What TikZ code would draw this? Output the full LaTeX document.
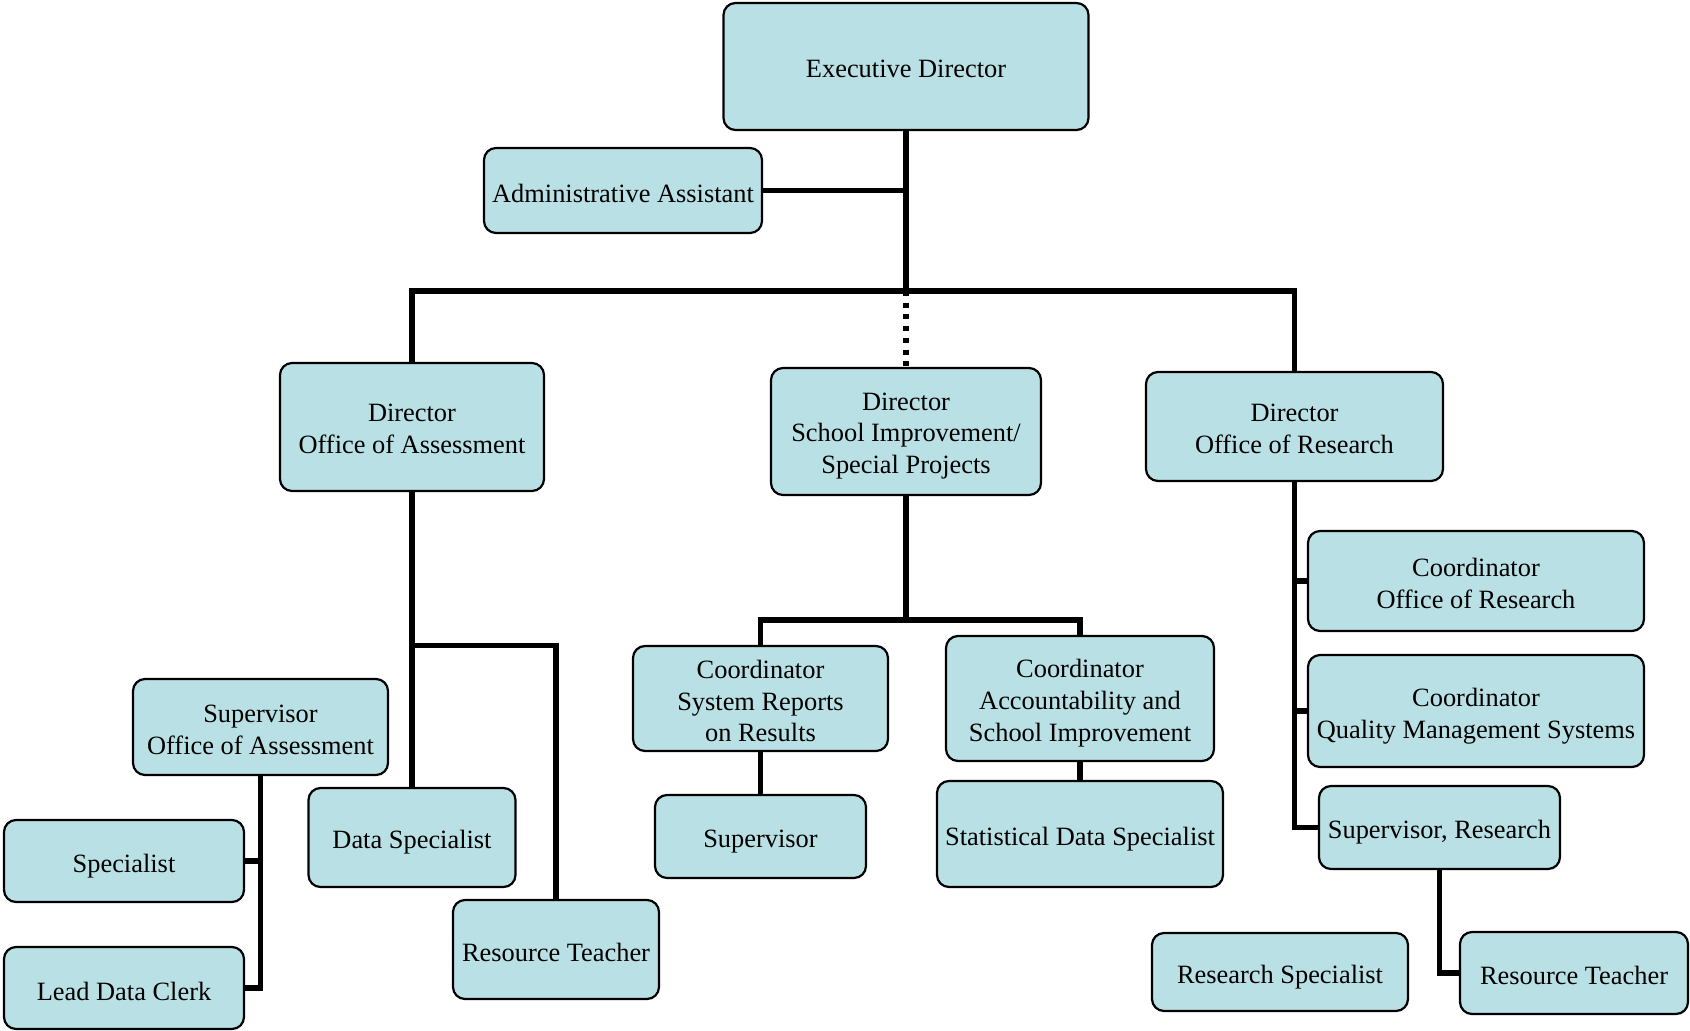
\documentclass[tikz,border=0pt]{standalone}
\usepackage{fontspec}
\setmainfont{Liberation Serif}
\definecolor{boxfill}{RGB}{185,224,228}
\newcommand\orgbox[7][-4.5pt]{%
  \node[box, minimum width=#5pt, minimum height=#6pt] (#2) at (#3,#4) {};
  \node[txt] (#2-t) at ([yshift=#1]#2.center) {#7};}
\begin{document}
\begin{tikzpicture}[x=1pt,y=-1pt,
  box/.style={draw=black, line width=2.2pt, fill=boxfill, rounded corners=12pt,
    inner sep=0pt, outer sep=0pt},
  txt/.style={align=center, inner sep=0pt, font=\fontsize{26.4}{31.8}\selectfont},
  conn/.style={draw=black, line width=5.5pt, line join=miter},
  dotconn/.style={draw=black, line width=5.5pt, dash pattern=on 5pt off 6.7pt}]
\useasboundingbox[fill=white] (0,0) rectangle (1690,1031);
% boxes
\orgbox[-2.5pt]{exec}{906}{66.5}{365}{127}{Executive Director}
\orgbox[-3pt]{admin}{623}{190.5}{278}{85}{Administrative Assistant}
\orgbox[-2pt]{dirA}{412}{427}{264}{128}{Director\\Office of Assessment}
\orgbox{dirSI}{906}{431.5}{270}{127}{Director\\School Improvement/\\Special Projects}
\orgbox[-2.5pt]{dirR}{1294.5}{426.5}{297}{109}{Director\\Office of Research}
\orgbox[-2.5pt]{coordOR}{1476}{581}{336}{100}{Coordinator\\Office of Research}
\orgbox[-5.5pt]{coordQMS}{1476}{711}{336}{112}{Coordinator\\Quality Management Systems}
\orgbox{supR}{1439.5}{827.5}{241}{83}{Supervisor, Research}
\orgbox[-5.5pt]{resSpec}{1280}{972}{256}{78}{Research Specialist}
\orgbox[-2.5pt]{resT2}{1574}{973}{228}{82}{Resource Teacher}
\orgbox[-2.5pt]{coordSRR}{760.5}{698.5}{255}{105}{Coordinator\\System Reports\\on Results}
\orgbox{coordAcc}{1080}{698.5}{268}{125}{Coordinator\\Accountability and\\School Improvement}
\orgbox[-5.5pt]{sup}{760.5}{836.5}{211}{83}{Supervisor}
\orgbox[-5.5pt]{stat}{1080}{834}{286}{106}{Statistical Data Specialist}
\orgbox[-2.5pt]{supOA}{260.5}{727}{255}{96}{Supervisor\\Office of Assessment}
\orgbox[-5.5pt]{spec}{124}{861}{240}{82}{Specialist}
\orgbox[-3.5pt]{ldc}{124}{988}{240}{82}{Lead Data Clerk}
\orgbox{dataSpec}{412}{837.5}{207}{99}{Data Specialist}
\orgbox[-2.5pt]{resT1}{556}{949.5}{206}{99}{Resource Teacher}
% junctions
\coordinate (jTop) at (906,291);
\coordinate (jA) at (412,645.6);
\coordinate (jSI) at (906,620);
% connectors
\draw[conn] (exec.south) -- (jTop);
\draw[conn] (admin.east) -- (admin.east -| exec.south);
\draw[conn] (dirA.north) |- (jTop) -| (dirR.north);
\draw[dotconn] (jTop) -- (dirSI.north);
\draw[conn] (dirA.south) -- (dataSpec.north);
\draw[conn] (jA) -| (resT1.north);
\draw[conn] (dirSI.south) -- (jSI);
\draw[conn] (coordSRR.north) |- (jSI) -| (coordAcc.north);
\draw[conn] (coordSRR.south) -- (sup.north);
\draw[conn] (coordAcc.south) -- (stat.north);
\draw[conn] (dirR.south) |- (supR.west);
\draw[conn] (coordOR.west) -- (coordOR.west -| dirR.south);
\draw[conn] (coordQMS.west) -- (coordQMS.west -| dirR.south);
\draw[conn] (supR.south) |- (resT2.west);
\draw[conn] (supOA.south) |- (ldc.east);
\draw[conn] (spec.east) -- (spec.east -| supOA.south);
\end{tikzpicture}
\end{document}
